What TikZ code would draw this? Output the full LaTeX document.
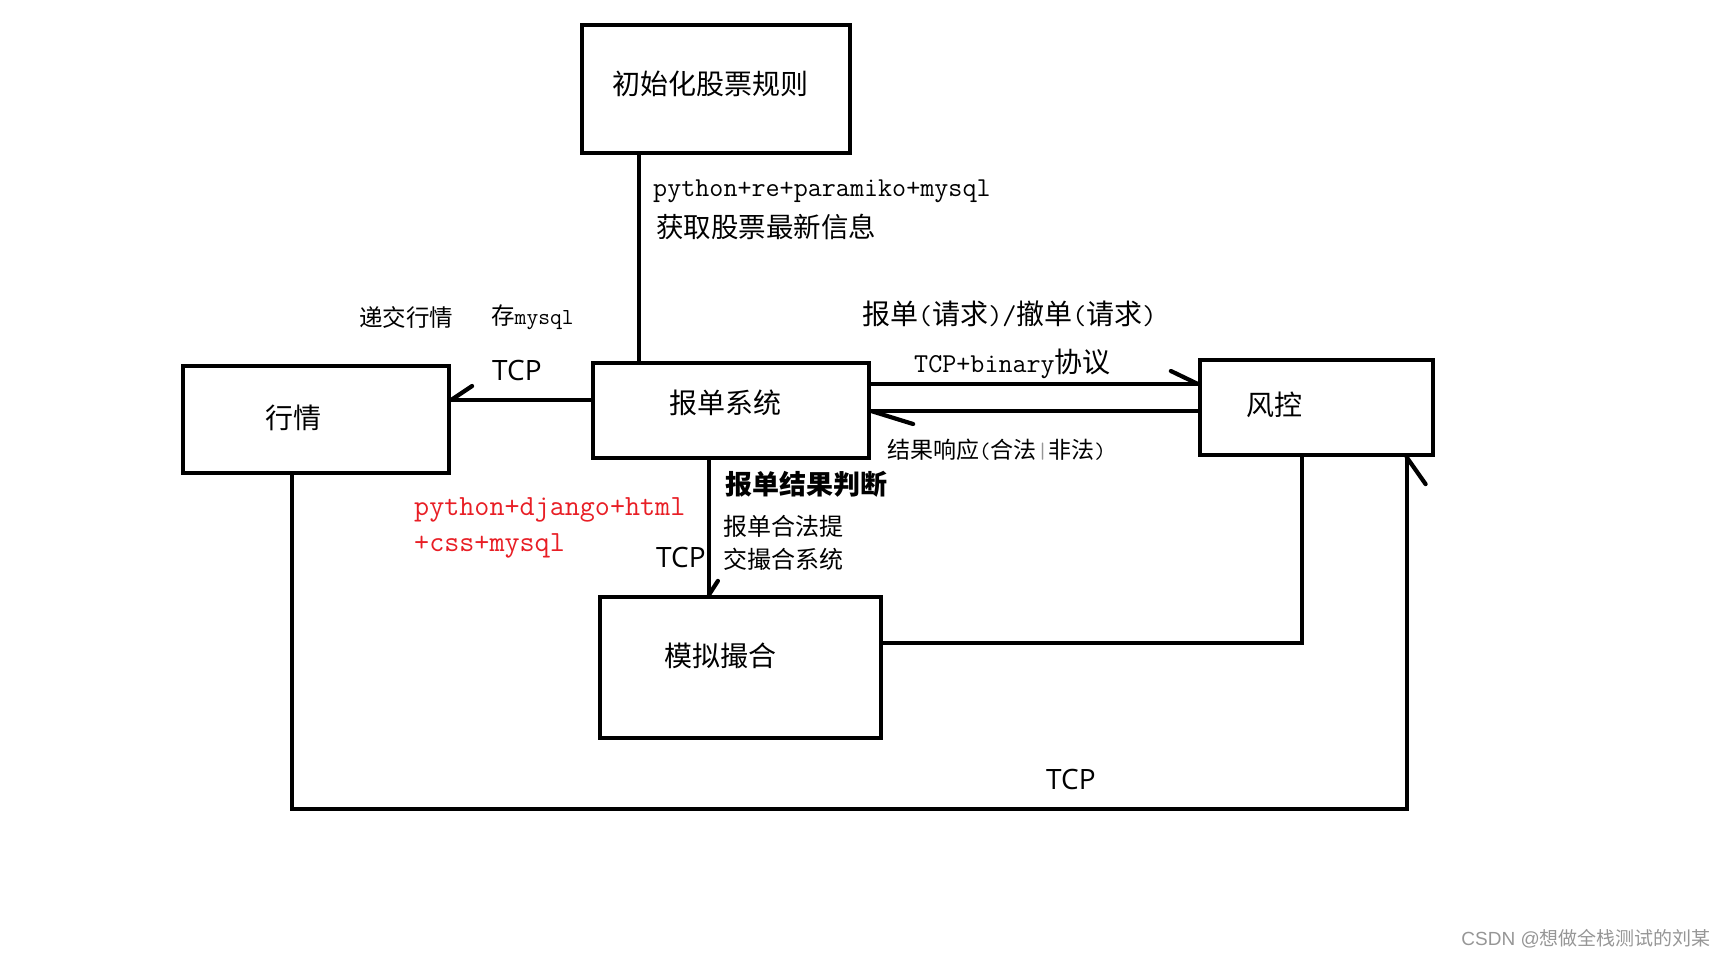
\documentclass[tikz,border=0pt]{standalone}
\usepackage{fontspec}
\setmainfont{Latin Modern Mono}
\newfontfamily\cjk{Noto Sans CJK SC}
\newfontfamily\mono[Scale=0.975]{Latin Modern Mono}
\newfontfamily\tcpfont{Open Sans}
\newfontfamily\marksans{Liberation Sans}
\definecolor{labelred}{RGB}{232,30,37}
\definecolor{markgray}{RGB}{150,150,150}
\newcommand\fs[1]{\fontsize{#1}{#1}\selectfont}
\newcommand\lat[1]{{\mono #1}}

\begin{document}
\begin{tikzpicture}[x=1pt, y=-1pt,
  box/.style={draw, line width=4.2pt, inner sep=0pt},
  boxtxt/.style={font=\cjk\fs{28}},
  wire/.style={line width=4.2pt},
  barb/.style={line width=4.2pt, line cap=round},
  note/.style={anchor=west, inner sep=0pt, font=\cjk\fs{#1}},
  tcp/.style={anchor=west, inner sep=0pt, font=\tcpfont\fs{28}}]
  \useasboundingbox (0,0) rectangle (1725,959);

  % --- boxes ---
  \node[box, minimum width=268pt, minimum height=128pt,
    label={[boxtxt, name=init-t, shift={(-6,-5)}]center:初始化股票规则}] (init) at (716,89) {};
  \node[box, minimum width=276pt, minimum height=95pt,
    label={[boxtxt, name=order-t, shift={(-6,-7.5)}]center:报单系统}] (order) at (731,410.5) {};
  \node[box, minimum width=266pt, minimum height=107pt,
    label={[boxtxt, name=quote-t, shift={(-23,-1.5)}]center:行情}] (quote) at (316,419.5) {};
  \node[box, minimum width=233pt, minimum height=95pt,
    label={[boxtxt, name=risk-t, shift={(-42,-2.5)}]center:风控}] (risk) at (1316.5,407.5) {};
  \node[box, minimum width=281pt, minimum height=141pt,
    label={[boxtxt, name=match-t, shift={(-20,-11.5)}]center:模拟撮合}] (match) at (740.5,667.5) {};

  % --- connector ends ---
  \coordinate (quote-in) at ([yshift=10.5pt]order.west -| quote.east);
  \coordinate (risk-in) at ([yshift=26.5pt]order.east -| risk.west);
  \coordinate (order-in) at ([yshift=-0.5pt]order.east);
  \coordinate (match-in) at ([xshift=118pt]order.south west |- match.north);
  \coordinate (loop-in) at ([xshift=-28.5pt]risk.south east);
  \coordinate (loop-y) at (0,809);

  % === connectors ===
  \draw[wire] ([xshift=59pt]init.south west) -- ([xshift=59pt]init.south west |- order.north);
  \draw[wire] ([yshift=10.5pt]order.west) -- (quote-in);
  \draw[wire] ([yshift=26.5pt]order.east) -- (risk-in);
  \draw[wire] (order-in -| risk.west) -- (order-in);
  \draw[wire] ([xshift=118pt]order.south west) -- (match-in);
  \draw[wire] ([yshift=24.5pt]match.east) -| ([xshift=104pt]risk.south west);
  % big loop from the quote box round to risk control
  \draw[wire] ([xshift=111pt]quote.south west)
    -- ([xshift=111pt]quote.south west |- loop-y) -| (loop-in);

  % === one-sided barbs, as drawn by hand ===
  \draw[barb] (quote-in) -- ++(21,-14);
  \draw[barb] (risk-in) -- ++(-27,-13);
  \draw[barb] (order-in) -- ++(42,13);
  \draw[barb] (match-in) -- ++(9,-14);
  \draw[barb] (loop-in) -- ++(19,27);

  % === labels ===
  \node[note=28] (py-init) at (653,191) {\lat{python+re+paramiko+mysql}};
  \node[note=27.5] (get-info) at (656,227) {获取股票最新信息};
  \node[note=23.5] (push-quote) at (359,317) {递交行情};
  \node[note=23.5] (save-db) at (491,317) {存\lat{mysql}};
  \node[tcp] (tcp-quote) at (492,370) {TCP};

  \node[note=28] (req) at (862,314) {报单\lat{(}请求\lat{)/}撤单\lat{(}请求\lat{)}};
  \node[note=28] (proto) at (914,364) {\lat{TCP+binary}协议};
  \node[note=23] (resp) at (887,450) {结果响应\lat{(}合法{\color{markgray}\lat{|}}非法\lat{)}};

  \node[note=27, font=\cjk\bfseries\fs{27}] (judge) at (725,484) {报单结果判断};
  \node[note=24] (legal-a) at (723,526) {报单合法提};
  \node[note=24] (legal-b) at (723,559) {交撮合系统};
  \node[tcp] (tcp-match) at (656,557) {TCP};

  \node[note=30, text=labelred] (web-a) at (414,510) {\lat{python+django+html}};
  \node[note=30, text=labelred] (web-b) at (414,546) {\lat{+css+mysql}};

  \node[tcp] (tcp-loop) at (1046,779) {TCP};

  \node[note=19, anchor=east, text=markgray] (mark) at (1711,939) {{\marksans CSDN @}想做全栈测试的刘某};
\end{tikzpicture}
\end{document}
